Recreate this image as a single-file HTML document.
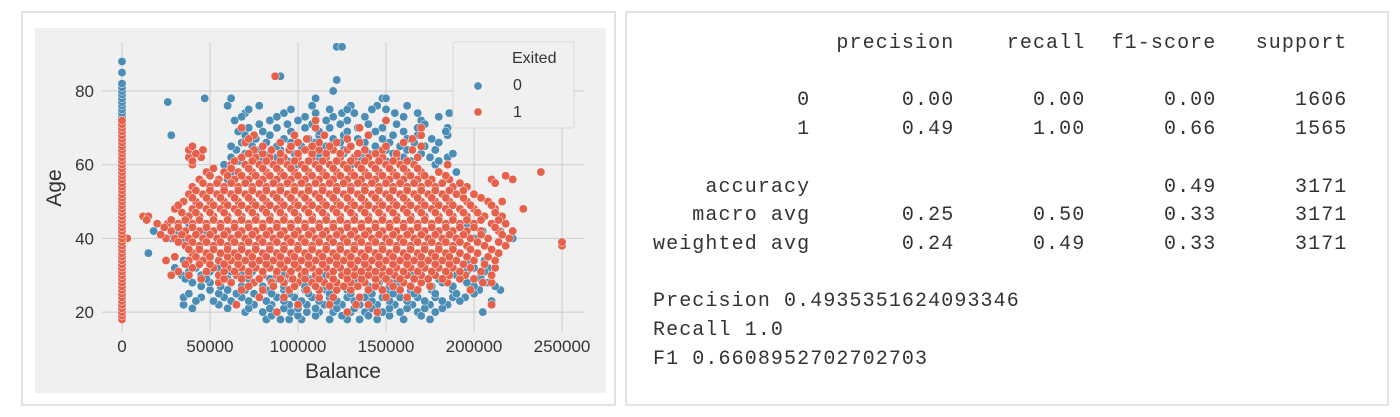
<!DOCTYPE html>
<html><head><meta charset="utf-8"><style>
html,body{margin:0;padding:0;background:#fff;width:1400px;height:417px;overflow:hidden}
svg{display:block}
pre{margin:0}
</style></head><body>
<svg width="1400" height="417" viewBox="0 0 1400 417" xmlns="http://www.w3.org/2000/svg">
  <rect x="22" y="12" width="593" height="393" fill="#fff" stroke="#d6dbe0" stroke-width="1.5"/>
  <rect x="35" y="28" width="571" height="365" fill="#f0f0f0"/>
  <g id="grid"></g>
  <g id="ticks"></g>
  <g id="marks"></g>
  <text x="343" y="378" font-family="Liberation Sans, sans-serif" font-size="21" fill="#333" text-anchor="middle">Balance</text>
  <text x="0" y="0" transform="translate(61,188) rotate(-90)" font-family="Liberation Sans, sans-serif" font-size="21" fill="#333" text-anchor="middle">Age</text>
  <g>
    <rect x="453" y="42" width="121" height="86" fill="#f0f0f0" stroke="#ddd8d4" stroke-width="1" rx="2"/>
    <text x="512" y="63" font-family="Liberation Sans, sans-serif" font-size="16" fill="#333">Exited</text>
    <circle cx="478" cy="86" r="4.2" fill="#4c8db5" stroke="#fff" stroke-width="0.6"/>
    <text x="513" y="90" font-family="Liberation Sans, sans-serif" font-size="16" fill="#333">0</text>
    <circle cx="478" cy="112" r="4.2" fill="#e5614b" stroke="#fff" stroke-width="0.6"/>
    <text x="513" y="117" font-family="Liberation Sans, sans-serif" font-size="16" fill="#333">1</text>
  </g>
  <rect x="626" y="12" width="762" height="393" fill="#fff" stroke="#d6dbe0" stroke-width="1.5"/>
  <foreignObject x="653" y="30" width="730" height="360">
<pre xmlns="http://www.w3.org/1999/xhtml" style="font-family:'Liberation Mono',monospace;font-size:20px;letter-spacing:1.1px;line-height:28.7px;color:#333;margin:0">              precision    recall  f1-score   support

           0       0.00      0.00      0.00      1606
           1       0.49      1.00      0.66      1565

    accuracy                           0.49      3171
   macro avg       0.25      0.50      0.33      3171
weighted avg       0.24      0.49      0.33      3171

Precision 0.4935351624093346
Recall 1.0
F1 0.6608952702702703</pre>
  </foreignObject>
</svg>
<script>
const xTicks = [0, 50000, 100000, 150000, 200000, 250000];
const xTickLabels = ["0", "50000", "100000", "150000", "200000", "250000"];
const yTicks = [20, 40, 60, 80];
const yTickLabels = ["20", "40", "60", "80"];
// Balance (thousands) per age row
const blueAges = [18,20,22,24,26,28,30,32,34,36,40,42,44,56,58,60,62,64,66,68,70,72,74,76,77,78,80,83,84,92,
  19,21,23,25,27,29,31,61,63,65,67,69,71,73,75];
const blueBalancesK = [
 [82,90,95,102,118,128,135,145,160,175],
 [70,80,88,96,105,112,120,130,138,148,158,168,178,205],
 [35,55,65,75,85,95,105,115,125,135,145,155,165,175,185],
 [35,45,58,68,78,88,98,108,118,128,138,148,158,168,178,188,195],
 [50,60,70,82,92,104,116,128,140,152,164,176,188,203,215],
 [40,50,62,74,86,98,110,122,134,146,158,170,182,196,208],
 [34,45,56,68,80,92,104,116,128,140,152,164,176,190,204],
 [30,42,54,66,200,208],
 [35,48,60,198,206],
 [15,40,50,202],
 [28,35,200,222],
 [18,32,48,205,215],
 [38,48,196],
 [60,185],
 [62,190],
 [58,70,100,130,160,178],
 [62,75,88,100,112,124,136,148,160,175,185],
 [65,78,90,102,114,126,138,150,162,178],
 [68,82,96,110,124,138,152,166,180],
 [28,70,84,98,112,126,140,154,168,185],
 [72,88,104,118,134,148,168,185],
 [64,84,100,116,128,150,170],
 [70,92,110,125,132,155,168,186],
 [60,78,108,130,145,162],
 [26],
 [47,62,110,148,150],
 [120],
 [122],
 [90],
 [122,125],
 [85,100,110,125,140,152,170],
 [40,60,72,84,92,100,110,122,132,142,152,162,172,182],
 [42,52,62,72,82,92,102,112,122,132,142,152,162,172,182,192,210],
 [38,55,65,75,85,95,106,118,130,142,154,166,178,190,200],
 [45,56,68,80,92,104,116,128,140,152,164,176,188,200,212],
 [36,48,60,72,84,96,108,120,132,144,156,168,180,192,204],
 [38,50,62,74,196,206],
 [66,80,94,108,122,136,150,164,180],
 [70,84,98,112,126,140,154,170,188],
 [62,74,88,102,116,130,144,158,172],
 [76,92,106,120,134,148,162,176],
 [66,80,96,112,128,144,160,184],
 [78,94,108,124,140,156,172],
 [68,88,104,120,138,160,180],
 [72,96,118,128,142,150]
];
const blueZeroAges = [73,74,75,76,77,78,79,80,81,82,85,88];
const orangeAges = [20,22,24,26,28,30,32,34,36,38,40,42,44,46,48,50,52,54,56,58,60,62,64,66,68,70,72,84,
  27,29,31,33,35,37,39,41,43,45,47,49,51,53,55,57,59,61,63,65,67];
const orangeBalancesK = [
 [88,128,145],
 [65,100,118,133,140,210],
 [78,92,112,120,135,150,162],
 [68,80,95,105,112,122,130,140,148,158,168,198],
 [55,62,75,85,92,100,108,115,122,130,138,145,152,160,170,185,205,210],
 [28,38,55,65,72,80,88,95,102,110,118,125,132,140,148,155,162,170,178,186,195,210],
 [40,52,60,68,76,84,92,100,108,116,124,132,140,148,156,164,172,180,188,198,212],
 [25,38,46,55,62,70,78,86,94,102,110,118,126,134,142,150,158,166,174,182,190,200,212],
 [40,48,56,64,72,80,88,96,104,112,120,128,136,144,152,160,168,176,184,192,202,214],
 [36,44,52,60,68,76,84,92,100,108,116,124,132,140,148,156,164,172,180,188,196,206,218,250],
 [3,25,30,38,46,54,62,70,78,86,94,102,110,118,126,134,142,150,158,166,174,182,190,198,208,220],
 [28,36,44,52,60,68,76,84,92,100,108,116,124,132,140,148,156,164,172,180,188,196,204,214,222],
 [20,26,32,40,48,56,64,72,80,88,96,104,112,120,128,136,144,152,160,168,176,184,192,200,210,218],
 [12,15,38,44,52,60,68,76,84,92,100,108,116,124,132,140,148,156,164,172,180,188,196,206,216],
 [30,40,48,56,64,72,80,88,96,104,112,120,128,136,144,152,160,168,176,184,192,200,212,228],
 [35,42,50,58,66,74,82,90,98,106,114,122,130,138,146,154,162,170,178,186,196,208,216],
 [38,46,54,62,70,78,86,94,102,110,118,126,134,142,150,158,166,174,182,190,200],
 [40,50,58,66,74,82,90,98,106,114,122,130,138,146,154,162,170,178,188,196],
 [44,55,64,72,80,88,96,104,112,120,128,136,144,152,160,168,176,186,210,222],
 [48,58,66,74,82,90,98,106,114,122,130,138,146,154,162,170,180,238],
 [40,62,70,78,86,94,102,110,118,126,134,142,150,158,166,185],
 [38,45,68,76,84,92,100,108,116,124,132,140,148,156,168],
 [38,46,75,85,95,104,112,120,128,138,148,165],
 [70,90,100,112,122,135,160],
 [75,98,115,140,170],
 [68,110,135,170],
 [110,150],
 [87],
 [72,86,98,110,118,126,134,144,154,164,175],
 [45,58,68,78,90,97,104,112,120,128,136,144,150,158,166,174,182,192,200],
 [32,48,58,64,72,80,88,96,104,112,120,128,136,144,152,160,168,176,184,192,204],
 [36,44,50,58,66,74,82,90,98,106,114,122,130,138,146,154,162,170,178,186,194,206],
 [30,42,50,60,66,74,82,90,98,106,114,122,130,138,146,154,162,170,178,186,196,208],
 [38,44,52,60,68,76,84,92,100,108,116,124,132,140,148,156,164,172,180,188,198,210],
 [32,40,48,56,64,72,80,88,96,104,112,120,128,136,144,152,160,168,176,184,192,202,214,250],
 [22,34,42,50,58,66,74,82,90,98,106,114,122,130,138,146,154,162,170,178,186,194,204,216],
 [24,32,40,48,56,64,72,80,88,96,104,112,120,128,136,144,152,160,168,176,184,192,200,212],
 [14,28,36,44,52,60,68,76,84,92,100,108,116,124,132,140,148,156,164,172,180,188,196,204,214],
 [34,42,50,58,66,74,82,90,98,106,114,122,130,138,146,154,162,170,178,186,194,202,212],
 [32,44,52,60,68,76,84,92,100,108,116,124,132,140,148,156,164,172,180,188,198,210],
 [40,48,56,64,72,80,88,96,104,112,120,128,136,144,152,160,168,176,184,194,204],
 [42,50,58,66,74,82,90,98,106,114,122,130,138,146,154,162,170,178,186,194],
 [46,54,62,70,78,86,94,102,110,118,126,134,142,150,158,166,174,182,192,212],
 [50,60,68,76,84,92,100,108,116,124,132,140,148,156,164,172,184,218],
 [52,62,72,80,88,96,104,112,120,128,136,144,152,160,168],
 [40,64,74,82,90,98,106,114,122,130,138,146,154,162],
 [42,72,80,90,100,108,116,124,134,144,156],
 [40,80,96,108,118,130,150,170],
 [72,105,128,165]
];
const orangeZeroAges = [18,19,20,21,22,23,24,25,26,27,28,29,30,31,32,33,34,35,36,37,38,39,40,41,42,43,44,45,46,47,48,49,50,51,52,53,54,55,56,57,58,59,60,61,62,63,64,65,66,67,68,69,70,71,72];

const NS = "http://www.w3.org/2000/svg";
function xScale(b){ return 122 + b / 50000 * 88; }
function yScale(a){ return 91 + (80 - a) / 20 * 73.7; }

const grid = document.getElementById('grid');
const ticks = document.getElementById('ticks');
const marks = document.getElementById('marks');

xTicks.forEach((t, i) => {
  const l = document.createElementNS(NS, 'line');
  
  
  l.setAttribute('x1', xScale(t)); l.setAttribute('x2', xScale(t));
  l.setAttribute('y1', 42); l.setAttribute('y2', 332);
  l.setAttribute('stroke', '#cbcbcb'); l.setAttribute('stroke-width', '1');
  grid.appendChild(l);
  const tx = document.createElementNS(NS, 'text');
  
  
  tx.setAttribute('x', xScale(t)); tx.setAttribute('y', 352);
  tx.setAttribute('text-anchor', 'middle');
  tx.setAttribute('font-family', 'Liberation Sans, sans-serif');
  tx.setAttribute('font-size', '17'); tx.setAttribute('fill', '#333');
  tx.textContent = xTickLabels[i];
  ticks.appendChild(tx);
});
yTicks.forEach((t, i) => {
  const l = document.createElementNS(NS, 'line');
  
  
  l.setAttribute('x1', 102); l.setAttribute('x2', 584);
  l.setAttribute('y1', yScale(t)); l.setAttribute('y2', yScale(t));
  l.setAttribute('stroke', '#cbcbcb'); l.setAttribute('stroke-width', '1');
  grid.appendChild(l);
  const tx = document.createElementNS(NS, 'text');
  
  
  tx.setAttribute('x', 94); tx.setAttribute('y', yScale(t) + 6);
  tx.setAttribute('text-anchor', 'end');
  tx.setAttribute('font-family', 'Liberation Sans, sans-serif');
  tx.setAttribute('font-size', '17'); tx.setAttribute('fill', '#333');
  tx.textContent = yTickLabels[i];
  ticks.appendChild(tx);
});

function dot(b, a, color, name){
  const c = document.createElementNS(NS, 'circle');
  
  
  c.setAttribute('cx', xScale(b)); c.setAttribute('cy', yScale(a));
  c.setAttribute('r', 4.2);
  c.setAttribute('fill', color);
  c.setAttribute('stroke', '#fff'); c.setAttribute('stroke-width', '0.5');
  marks.appendChild(c);
}
blueAges.forEach((a, i) => blueBalancesK[i].forEach(b => dot(b * 1000, a, '#4c8db5', 'point-exited-0')));
blueZeroAges.forEach(a => dot(0, a, '#4c8db5', 'point-exited-0'));
orangeAges.forEach((a, i) => orangeBalancesK[i].forEach(b => dot(b * 1000, a, '#e5614b', 'point-exited-1')));
orangeZeroAges.forEach(a => dot(0, a, '#e5614b', 'point-exited-1'));
</script>
</body></html>
